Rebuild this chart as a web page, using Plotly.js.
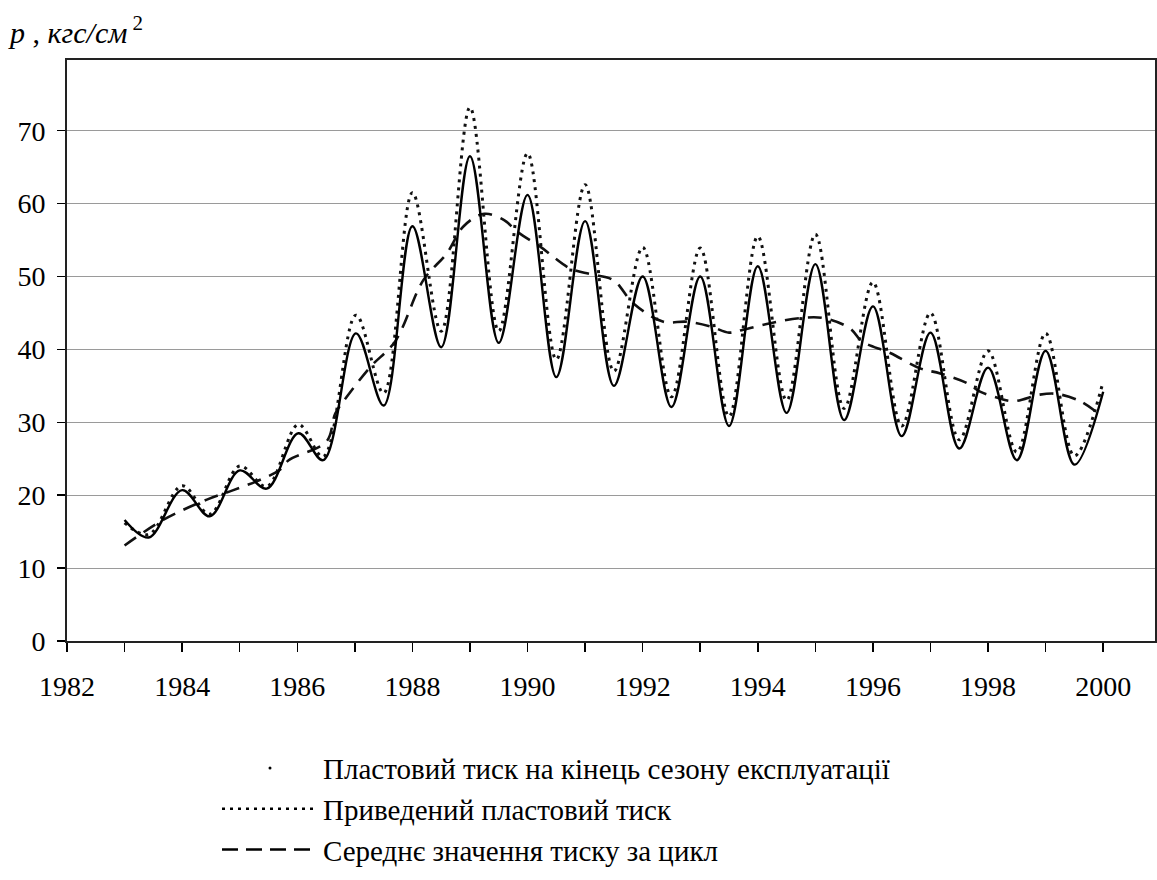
<!DOCTYPE html>
<html>
<head>
<meta charset="utf-8">
<script src="https://cdn.plot.ly/plotly-3.0.1.min.js"></script>
<style>html,body{margin:0;padding:0;background:#fff;}#chart{width:1157px;height:880px;}</style>
</head>
<body>
<div id="chart"></div>
<script>
// Пластовий тиск на кінець сезону експлуатації (solid line)
const endSeasonYears = [1983.0, 1983.42, 1984.0, 1984.48, 1985.0, 1985.47, 1986.02, 1986.45, 1987.02, 1987.5, 1988.0, 1988.5, 1989.0, 1989.5, 1990.0, 1990.5, 1991.0, 1991.5, 1992.0, 1992.5, 1993.0, 1993.5, 1994.0, 1994.5, 1995.0, 1995.5, 1996.0, 1996.5, 1997.0, 1997.5, 1998.0, 1998.5, 1999.0, 1999.5, 2000.0];
const endSeasonPressure = [16.6, 14.2, 20.7, 17.1, 23.4, 20.9, 28.5, 24.8, 42.2, 32.3, 56.9, 40.3, 66.5, 40.9, 61.2, 36.2, 57.6, 35.0, 50.0, 32.1, 50.0, 29.5, 51.4, 31.3, 51.7, 30.3, 45.9, 28.1, 42.3, 26.4, 37.5, 24.8, 39.8, 24.2, 34.2];

// Приведений пластовий тиск (dotted line)
const reducedYears = [1983.0, 1983.42, 1984.0, 1984.48, 1985.0, 1985.47, 1986.02, 1986.45, 1987.02, 1987.5, 1988.0, 1988.5, 1989.0, 1989.5, 1990.0, 1990.5, 1991.0, 1991.5, 1992.0, 1992.5, 1993.0, 1993.5, 1994.0, 1994.5, 1995.0, 1995.5, 1996.0, 1996.5, 1997.0, 1997.5, 1998.0, 1998.5, 1999.0, 1999.5, 2000.0];
const reducedPressure = [16.2, 14.6, 21.3, 17.4, 24.0, 21.2, 29.7, 25.3, 44.7, 34.0, 61.5, 42.5, 73.2, 42.5, 66.9, 38.6, 62.6, 37.0, 54.0, 33.5, 53.9, 30.8, 55.5, 33.0, 55.8, 31.9, 49.2, 29.5, 45.0, 27.6, 39.8, 25.9, 42.2, 25.4, 35.6];

// Середнє значення тиску за цикл (dashed line)
const meanYears = [1983.0, 1983.67, 1984.43, 1984.89, 1985.41, 1985.7, 1985.85, 1986.51, 1986.66, 1986.86, 1987.27, 1987.7, 1988.19, 1988.6, 1988.89, 1989.25, 1989.6, 1989.81, 1990.22, 1990.74, 1991.1, 1991.49, 1991.84, 1992.36, 1992.77, 1993.2, 1993.5, 1993.75, 1994.22, 1994.74, 1995.14, 1995.6, 1995.81, 1996.3, 1996.82, 1997.17, 1997.63, 1997.86, 1998.15, 1998.44, 1998.9, 1999.19, 1999.6, 1999.98];
const meanPressure = [13.1, 16.6, 19.4, 20.7, 22.3, 23.5, 24.8, 27.4, 31.2, 33.5, 37.6, 41.1, 49.5, 53.2, 56.9, 58.6, 57.7, 56.2, 54.1, 51.1, 50.3, 49.5, 46.3, 43.8, 43.8, 43.1, 42.3, 42.7, 43.6, 44.3, 44.3, 42.9, 41.1, 39.5, 37.4, 36.7, 35.4, 34.2, 33.4, 32.9, 33.8, 33.9, 32.9, 30.8];

const seriesNames = ['Пластовий тиск на кінець сезону експлуатації', 'Приведений пластовий тиск', 'Середнє значення тиску за цикл'];
const yTickValues = [0, 10, 20, 30, 40, 50, 60, 70];
const xTickValues = [1982, 1984, 1986, 1988, 1990, 1992, 1994, 1996, 1998, 2000];

const serif = '"Liberation Serif", "Times New Roman", Times, serif';

const traces = [
  {x: meanYears, y: meanPressure, mode: 'lines', name: seriesNames[2], showlegend: false,
   line: {color: '#111', width: 2.6, dash: '14px,9px', shape: 'spline', smoothing: 1}},
  {x: reducedYears, y: reducedPressure, mode: 'lines', name: seriesNames[1], showlegend: false,
   line: {color: '#111', width: 3, dash: '3px,5px', shape: 'spline', smoothing: 1}},
  {x: endSeasonYears, y: endSeasonPressure, mode: 'lines', name: seriesNames[0], showlegend: false,
   line: {color: '#000', width: 2.4, shape: 'spline', smoothing: 1}},
  // legend entries
  {x: [null], y: [null], mode: 'markers', name: seriesNames[0], marker: {color: '#000', size: 3}},
  {x: [null], y: [null], mode: 'lines', name: seriesNames[1], line: {color: '#000', width: 2.5, dash: '3px,5px'}},
  {x: [null], y: [null], mode: 'lines', name: seriesNames[2], line: {color: '#000', width: 2.5, dash: '16px,8px'}}
];

const layout = {
  width: 1157, height: 880,
  paper_bgcolor: '#fff', plot_bgcolor: '#fff',
  margin: {l: 67, r: 2, t: 60, b: 239},
  font: {family: serif, color: '#000', size: 28},
  title: {text: '<i>p</i> , <i>кгс/см</i><sup> 2</sup>', x: 10 / 1157, xanchor: 'left', y: 1 - 32 / 880, yanchor: 'middle', yref: 'container',
          font: {family: serif, size: 30, color: '#000'}},
  xaxis: {
    range: [1982, 2000.9], tickvals: xTickValues, ticktext: xTickValues.map(String),
    ticks: 'outside', ticklen: 9, tickwidth: 1.5, tickcolor: '#000', ticklabelstandoff: 10,
    minor: {dtick: 1, tick0: 1982, ticks: 'outside', ticklen: 9, tickwidth: 1.5, tickcolor: '#000', showgrid: false},
    showgrid: false, zeroline: false, showline: true, linecolor: '#222', linewidth: 2, mirror: true,
    tickfont: {family: serif, size: 28, color: '#000'}
  },
  yaxis: {
    range: [0, 79.7], tickvals: yTickValues, ticktext: yTickValues.map(String),
    ticks: 'outside', ticklen: 8, tickwidth: 1.5, tickcolor: '#000', ticklabelstandoff: 6,
    showgrid: true, gridcolor: '#9a9a9a', gridwidth: 1, zeroline: false,
    showline: true, linecolor: '#222', linewidth: 2, mirror: true,
    tickfont: {family: serif, size: 28, color: '#000'}
  },
  showlegend: true,
  legend: {x: 150 / 1088, xanchor: 'left', y: -0.175, yanchor: 'top', orientation: 'v',
           bgcolor: 'rgba(0,0,0,0)', itemwidth: 96, tracegroupgap: 0,
           font: {family: serif, size: 29, color: '#000'}}
};

Plotly.newPlot('chart', traces, layout, {displayModeBar: false, staticPlot: true});
</script>
</body>
</html>
